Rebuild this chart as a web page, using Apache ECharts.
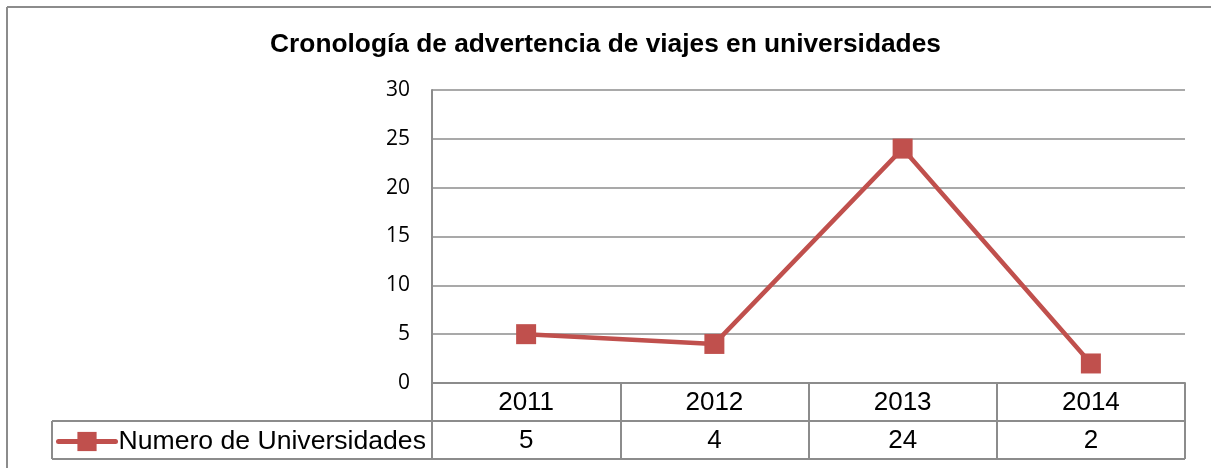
<!DOCTYPE html>
<html>
<head>
<meta charset="utf-8">
<script src="https://cdn.jsdelivr.net/npm/echarts@6/dist/echarts.min.js"></script>
<style>
html,body{margin:0;padding:0;background:#fff;}
#c{width:1211px;height:468px;}
</style>
</head>
<body>
<div id="c"></div>
<script>
const titleText = 'Cronología de advertencia de viajes en universidades';
const seriesName = 'Numero de Universidades';
const years = ['2011', '2012', '2013', '2014'];
const values = [5, 4, 24, 2];
const yTicks = [0, 5, 10, 15, 20, 25, 30];

const gray = '#8c8c8c';
const red = '#C0504D';
const chart = echarts.init(document.getElementById('c'));

const G = {left: 432, right: 1185, top: 90, bottom: 383, row: 38, legendLeft: 52};
const tableFont = {fontFamily: 'Liberation Sans, Arial', fontSize: 26, color: '#000'};

chart.setOption({
  animation: false,
  backgroundColor: '#fff',
  title: {
    text: titleText, left: 'center', top: 27,
    textStyle: {fontFamily: 'Liberation Sans, Arial', fontWeight: 'bold', fontSize: 26.3, color: '#000'}
  },
  legend: {
    left: 56, top: 428, itemWidth: 57, itemHeight: 24, itemGap: 0, padding: 0,
    lineStyle: {width: 5, cap: 'round', color: red},
    textStyle: Object.assign({padding: [0, 0, 0, -2]}, tableFont, {fontSize: 26.6}),
    data: [seriesName]
  },
  grid: {left: G.left, right: 1211 - G.right, top: G.top, bottom: 468 - G.bottom, containLabel: false},
  xAxis: [{
    type: 'category', data: years, boundaryGap: true, position: 'bottom',
    axisLine: {show: true, lineStyle: {color: gray, width: 2}},
    axisTick: {show: true, length: G.row * 2, lineStyle: {color: gray, width: 2}},
    axisLabel: Object.assign({margin: 7}, tableFont),
    splitLine: {show: false}
  }, {
    type: 'category', data: years, boundaryGap: true, position: 'bottom', offset: G.row,
    axisLine: {show: true, lineStyle: {color: gray, width: 2}},
    axisTick: {show: false},
    axisLabel: Object.assign({margin: 7, formatter: (v, i) => String(values[i])}, tableFont),
    splitLine: {show: false}
  }],
  yAxis: {
    type: 'value', min: yTicks[0], max: yTicks[yTicks.length - 1], interval: 5,
    axisLine: {show: true, lineStyle: {color: gray, width: 2}},
    axisTick: {show: false},
    axisLabel: {margin: 22, fontFamily: 'Open Sans, Noto Sans', fontSize: 21, color: '#000'},
    splitLine: {show: true, lineStyle: {color: gray, width: 1.5}}
  },
  series: [{
    name: seriesName, type: 'line', data: values, xAxisIndex: 0,
    symbol: 'rect', symbolSize: 20,
    lineStyle: {color: red, width: 4.5},
    itemStyle: {color: red},
    z: 5
  }],
  graphic: [
    {type: 'line', shape: {x1: 7, y1: 7, x2: 1211, y2: 7}, style: {stroke: gray, lineWidth: 2}},
    {type: 'line', shape: {x1: 7, y1: 7, x2: 7, y2: 468}, style: {stroke: gray, lineWidth: 2}},
    {type: 'line', shape: {x1: G.legendLeft, y1: G.bottom + G.row, x2: G.left, y2: G.bottom + G.row}, style: {stroke: gray, lineWidth: 2}},
    {type: 'line', shape: {x1: G.legendLeft, y1: G.bottom + 2 * G.row, x2: G.right, y2: G.bottom + 2 * G.row}, style: {stroke: gray, lineWidth: 2}},
    {type: 'line', shape: {x1: G.legendLeft, y1: G.bottom + G.row, x2: G.legendLeft, y2: G.bottom + 2 * G.row}, style: {stroke: gray, lineWidth: 2}}
  ]
});
</script>
</body>
</html>
